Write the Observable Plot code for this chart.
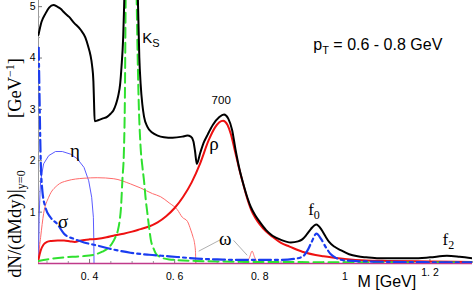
<!DOCTYPE html>
<html><head><meta charset="utf-8">
<script src="https://cdn.jsdelivr.net/npm/d3@7"></script>
<script src="https://cdn.jsdelivr.net/npm/@observablehq/plot@0.6"></script>
<style>
html,body{margin:0;padding:0;background:#fff;}
svg{display:block;}
</style></head><body><div id="chart"></div>
<script>
// ---- data (M in GeV, dN/dMdy in GeV^-1) ----
const xTicks = [0.4, 0.6, 0.8, 1.0, 1.2];
const xTickLabels = ["0. 4", "0. 6", "0. 8", "1", "1. 2"];
const yTicks = [1, 2, 3, 4, 5];
const yTickLabels = ["1", "2", "3", "4", "5"];

const total = [[0.280,4.45],[0.287,4.70],[0.296,4.86],[0.305,4.98],[0.315,5.03],[0.324,5.00],[0.332,4.96],[0.340,4.89],[0.352,4.80],[0.363,4.69],[0.379,4.55],[0.390,4.40],[0.397,4.22],[0.402,4.06],[0.406,3.85],[0.409,3.55],[0.4105,3.15],[0.412,2.77],[0.420,2.79],[0.430,2.82],[0.442,2.86],[0.450,2.92],[0.456,2.98],[0.462,3.10],[0.467,3.25],[0.472,3.50],[0.475,3.82],[0.479,4.40],[0.4812,5.0],[0.487,7.5],[0.493,13],[0.497,18],[0.502,14],[0.508,8],[0.514,5.0],[0.517,4.0],[0.520,3.5],[0.524,3.1],[0.528,2.86],[0.536,2.66],[0.547,2.55],[0.560,2.49],[0.575,2.46],[0.595,2.45],[0.618,2.47],[0.630,2.49],[0.638,2.47],[0.644,2.38],[0.648,2.18],[0.652,1.94],[0.660,2.15],[0.668,2.35],[0.677,2.50],[0.690,2.70],[0.705,2.85],[0.716,2.90],[0.726,2.82],[0.735,2.60],[0.743,2.22],[0.752,1.85],[0.763,1.50],[0.771,1.28],[0.779,1.10],[0.790,0.93],[0.800,0.81],[0.815,0.65],[0.830,0.54],[0.850,0.46],[0.873,0.41],[0.890,0.43],[0.900,0.47],[0.910,0.56],[0.920,0.67],[0.933,0.76],[0.945,0.66],[0.955,0.52],[0.963,0.42],[0.975,0.33],[0.990,0.26],[1.010,0.18],[1.030,0.14],[1.050,0.12],[1.080,0.10],[1.120,0.10],[1.160,0.10],[1.200,0.12],[1.240,0.15],[1.270,0.13],[1.300,0.10]];

const rho = [[0.280,0.08],[0.285,0.25],[0.292,0.37],[0.300,0.42],[0.310,0.44],[0.325,0.45],[0.340,0.45],[0.355,0.43],[0.365,0.42],[0.380,0.45],[0.400,0.47],[0.420,0.48],[0.440,0.51],[0.460,0.55],[0.480,0.58],[0.500,0.62],[0.520,0.67],[0.540,0.72],[0.560,0.80],[0.580,0.92],[0.600,1.08],[0.620,1.30],[0.640,1.58],[0.660,1.95],[0.680,2.40],[0.695,2.65],[0.705,2.75],[0.714,2.78],[0.724,2.70],[0.732,2.52],[0.740,2.25],[0.750,1.90],[0.760,1.58],[0.770,1.28],[0.780,1.04],[0.790,0.88],[0.800,0.76],[0.815,0.62],[0.830,0.52],[0.850,0.40],[0.870,0.33],[0.900,0.23],[0.950,0.14],[1.000,0.09],[1.050,0.06],[1.100,0.05],[1.200,0.04],[1.300,0.03]];

const kshort = [[0.280,0.05],[0.300,0.08],[0.340,0.12],[0.380,0.14],[0.410,0.17],[0.430,0.23],[0.442,0.29],[0.452,0.38],[0.460,0.50],[0.467,0.66],[0.471,0.85],[0.474,1.10],[0.477,1.60],[0.481,2.26],[0.483,3.2],[0.4847,5.0],[0.488,8],[0.493,15],[0.497,20],[0.502,14],[0.507,7.5],[0.511,5.0],[0.515,3.3],[0.520,2.26],[0.524,1.9],[0.528,1.61],[0.532,1.25],[0.536,0.97],[0.540,0.70],[0.544,0.46],[0.550,0.30],[0.556,0.19],[0.565,0.13],[0.587,0.08],[0.650,0.05],[0.800,0.03],[1.300,0.02]];

const sigma = [[0.2805,4.2],[0.2825,3.2],[0.285,2.07],[0.289,1.42],[0.296,1.10],[0.308,0.90],[0.324,0.77],[0.340,0.58],[0.363,0.48],[0.387,0.41],[0.418,0.35],[0.457,0.27],[0.496,0.21],[0.540,0.17],[0.587,0.14],[0.630,0.11],[0.665,0.09],[0.700,0.08],[0.750,0.07],[0.800,0.07],[0.850,0.07],[0.880,0.09],[0.900,0.13],[0.912,0.25],[0.922,0.42],[0.933,0.58],[0.944,0.48],[0.955,0.32],[0.967,0.18],[0.979,0.11],[1.000,0.06],[1.050,0.04],[1.300,0.02]];

const etaDalitz = [[0.2800,0],[0.2815,0.9],[0.2835,1.35],[0.285,1.61],[0.292,1.94],[0.304,2.10],[0.320,2.18],[0.336,2.18],[0.355,2.13],[0.371,2.04],[0.387,1.87],[0.398,1.61],[0.405,1.29],[0.409,0.90],[0.4100,0.45],[0.4105,0]];

const omegaDalitz = [[0.2800,0],[0.2822,0.3],[0.285,0.51],[0.292,0.97],[0.304,1.29],[0.324,1.52],[0.347,1.61],[0.387,1.66],[0.418,1.67],[0.457,1.65],[0.496,1.55],[0.520,1.47],[0.548,1.36],[0.567,1.30],[0.587,1.18],[0.606,1.05],[0.618,0.90],[0.630,0.82],[0.638,0.65],[0.643,0.52],[0.647,0.38],[0.649,0.22],[0.6495,0]];

const omegaPeak = [[0.760,0.01],[0.770,0.04],[0.776,0.12],[0.782,0.24],[0.788,0.12],[0.794,0.04],[0.805,0.01]];

const omegaLeaders = [[0.7115,0.48,0.6565,0.24],[0.7385,0.45,0.7705,0.16]];

// label anchors (data coordinates)
const labelKs = [0.525, 4.28];
const label700 = [0.7106, 3.09];
const labelRho = [0.6935, 2.2];
const labelEta = [0.367, 2.06];
const labelSigma = [0.339, 0.68];
const labelOmega = [0.72, 0.35];
const labelF0 = [0.915, 0.93];
const labelF2 = [1.2306, 0.35];
const labelPt = [0.927, 4.14];

// ---- chart ----
const x0 = 0.28, x1 = 1.3;
const pxX = (x1 - x0) / 434, pxY = 5.12 / 263;
const xMinor = d3.range(0.30, 1.30001, 0.05).map(v => +v.toFixed(2)).filter(v => !xTicks.some(t => Math.abs(t - v) < 1e-6));
const yMinor = d3.range(0.2, 5.01, 0.2).map(v => +v.toFixed(1)).filter(v => !yTicks.includes(v));

const X = d => d[0], Y = d => d[1];
const serif = "'Liberation Serif', serif";
const sans = "'Liberation Sans', Arial, sans-serif";
const fmtX = d => xTickLabels[xTicks.indexOf(d)];

const chart = Plot.plot({
  width: 474, height: 292,
  marginLeft: 38, marginRight: 2, marginTop: 0, marginBottom: 29,
  style: {background: "#fff", fontFamily: sans, color: "#000"},
  x: {domain: [x0, x1]},
  y: {domain: [0, 5.12]},
  marks: [
    Plot.ruleX([x0], {stroke: "#9a9a9a", strokeWidth: 1}),
    Plot.ruleX(xTicks, {x: d => d, y1: 0, y2: 4 * pxY, stroke: "#777"}),
    Plot.ruleX(xMinor, {x: d => d, y1: 0, y2: 2 * pxY, stroke: "#999"}),
    Plot.ruleY(yTicks, {y: d => d, x1: x0, x2: x0 + 4 * pxX, stroke: "#777"}),
    Plot.ruleY(yMinor, {y: d => d, x1: x0, x2: x0 + 2 * pxX, stroke: "#aaa"}),
    Plot.axisX({ticks: xTicks.slice(0, 4), tickFormat: fmtX, tickSize: 0, tickPadding: 9, fontSize: 10.5, label: null}),
    Plot.axisX({ticks: xTicks.slice(4), tickFormat: fmtX, tickSize: 0, tickPadding: 5, fontSize: 10.5, label: null}),
    Plot.axisY({ticks: yTicks, tickFormat: d => yTickLabels[yTicks.indexOf(d)], tickSize: 0, tickPadding: 3, fontSize: 10.5, label: null}),
    Plot.link(omegaLeaders, {x1: d => d[0], y1: d => d[1], x2: d => d[2], y2: d => d[3], stroke: "#b0b0b0", strokeWidth: 1}),
    Plot.line(etaDalitz, {x: X, y: Y, stroke: "#5b5bff", strokeWidth: 1, clip: true}),
    Plot.line(omegaDalitz, {x: X, y: Y, stroke: "#ff6a6a", strokeWidth: 1, clip: true, curve: "monotone-x"}),
    Plot.line(omegaPeak, {x: X, y: Y, stroke: "#ff6a6a", strokeWidth: 1, clip: true, curve: "monotone-x"}),
    Plot.ruleY([0], {stroke: "#c03a8a", strokeWidth: 1.5}),
    Plot.line(rho, {x: X, y: Y, stroke: "#ee1111", strokeWidth: 2, clip: true, curve: "monotone-x"}),
    Plot.line(kshort, {x: X, y: Y, stroke: "#2fe02f", strokeWidth: 2, strokeDasharray: "10,5", clip: true, curve: "monotone-x"}),
    Plot.line(sigma, {x: X, y: Y, stroke: "#1a3cf0", strokeWidth: 2.2, strokeDasharray: "12,4,3,4", clip: true, curve: "monotone-x"}),
    Plot.line(total, {x: X, y: Y, stroke: "#000", strokeWidth: 2, clip: true, curve: "monotone-x"})
  ]
});
document.getElementById("chart").appendChild(chart);

const sx = chart.scale("x"), sy = chart.scale("y");
const svg = d3.select(chart);
const g = svg.append("g").attr("fill", "#000");

function addText(pos, font, size, parts, anchor = "start") {
  const t = g.append("text")
    .attr("x", sx.apply(pos[0])).attr("y", sy.apply(pos[1]))
    .style("font-family", font).style("font-size", size + "px")
    .attr("text-anchor", anchor);
  parts.forEach(p => {
    const s = t.append("tspan").text(p.t);
    if (p.size) s.style("font-size", p.size + "px");
    if (p.dy) s.attr("dy", p.dy);
  });
  return t;
}
addText(labelKs, sans, 15, [{t: "K"}, {t: "S", size: 11, dy: 4}]);
addText(label700, sans, 11.5, [{t: "700"}], "middle");
addText(labelRho, serif, 19, [{t: "ρ"}], "middle");
addText(labelEta, serif, 19, [{t: "η"}], "middle");
addText(labelSigma, serif, 19, [{t: "σ"}], "middle");
addText(labelOmega, serif, 19, [{t: "ω"}], "middle");
addText(labelF0, serif, 17, [{t: "f"}, {t: "0", size: 12, dy: 4}]);
addText(labelF2, serif, 17, [{t: "f"}, {t: "2", size: 12, dy: 4}]);
addText(labelPt, sans, 16, [{t: "p"}, {t: "T", size: 11, dy: 4}, {t: " = 0.6 - 0.8 GeV", dy: -4}]);

// axis titles
g.append("text").attr("x", sx.apply(1.1)).attr("y", 287)
  .style("font-family", sans).style("font-size", "16px").attr("text-anchor", "middle")
  .text("M [GeV]");
const yt = g.append("text").attr("transform", "translate(21,224) rotate(-90)")
  .style("font-family", serif).style("font-size", "18.5px");
yt.append("tspan").text("dN/(dMdy)");
yt.append("tspan").style("font-size", "21px").text("|");
yt.append("tspan").style("font-size", "12px").attr("dy", 4).text("y=0");
const yu = g.append("text").attr("transform", "translate(21,88) rotate(-90)")
  .style("font-family", serif).style("font-size", "18.5px");
yu.append("tspan").text("[GeV");
yu.append("tspan").style("font-size", "12px").attr("dy", -7).text("−1");
yu.append("tspan").attr("dy", 7).text("]");
</script></body></html>
